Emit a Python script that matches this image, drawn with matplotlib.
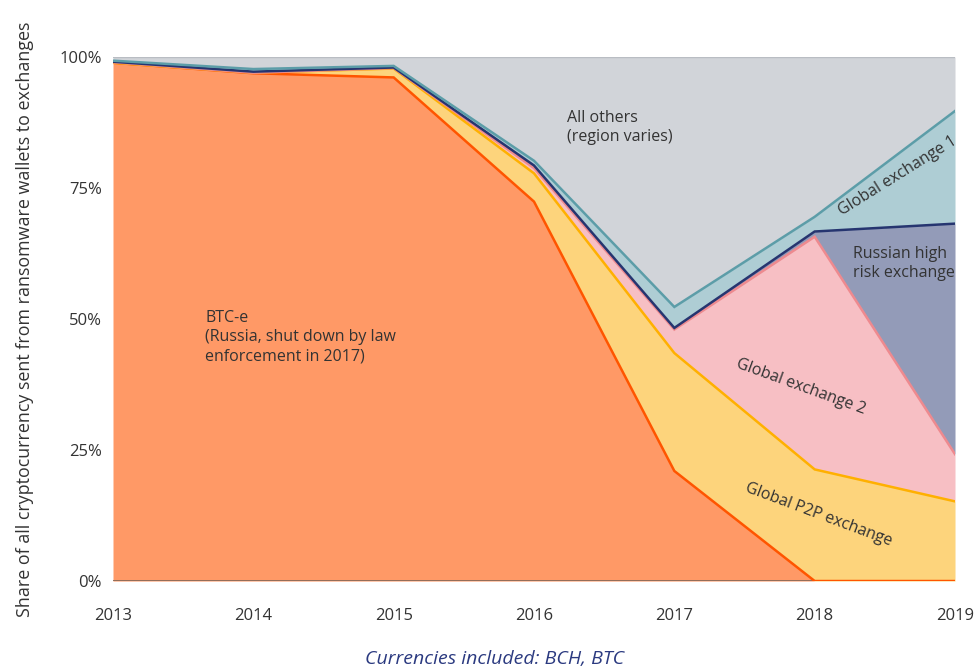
import matplotlib
matplotlib.use("Agg")
import matplotlib.pyplot as plt
import numpy as np

years = [2013, 2014, 2015, 2016, 2017, 2018, 2019]
btc_e = [98.9, 96.9, 96.1, 72.4, 21.0, 0.0, 0.0]
global_p2p = [0.0, 0.1, 1.7, 5.4, 22.5, 21.3, 15.2]
global_ex2 = [0.1, 0.0, 0.1, 1.0, 4.5, 44.4, 9.0]
russian_hr = [0.1, 0.2, 0.1, 0.5, 0.3, 1.0, 44.0]
global_ex1 = [0.2, 0.5, 0.3, 0.9, 4.0, 2.8, 21.5]
all_others = [0.7, 2.3, 1.7, 19.8, 47.7, 30.5, 10.3]

series = [btc_e, global_p2p, global_ex2, russian_hr, global_ex1, all_others]
fills = ["#FF9966", "#FDD47C", "#F7BFC4", "#939BB8", "#AECDD4", "#D1D4D9"]
edges = ["#FF5500", "#FFB000", "#EE8A8F", "#263570", "#5C9DA8", None]

yticks = [0, 25, 50, 75, 100]
ytick_labels = ["0%", "25%", "50%", "75%", "100%"]

plt.rcParams["font.family"] = ["Open Sans", "DejaVu Sans"]
txt = "#333333"

fig = plt.figure(figsize=(9.8, 6.69), dpi=100)
ax = fig.add_axes([0.1153, 0.1315, 0.8592, 0.7833])

x = np.array(years)
data = np.array(series)
cum = np.cumsum(data, axis=0)
bottom = np.zeros(len(years))
for i in range(len(series)):
    ax.fill_between(x, bottom, cum[i], color=fills[i], linewidth=0, zorder=1)
    bottom = cum[i]

ax.axhline(0, color="#8a6a58", lw=1.3, zorder=2)
ax.axhline(100, color="#B9BDC3", lw=1.0, zorder=2)
for i in range(len(series)):
    if edges[i]:
        ax.plot(x, cum[i], color=edges[i], lw=1.8, zorder=3 + i * 0.01,
                solid_joinstyle="miter")

ax.set_xlim(2013, 2019)
ax.set_ylim(0, 100)
ax.set_xticks(years)
ax.set_xticklabels([str(y) for y in years], fontsize=12, color=txt)
ax.set_yticks(yticks)
ax.set_yticklabels(ytick_labels, fontsize=12, color=txt)
ax.tick_params(length=0, pad=8)
ax.tick_params(axis="x", pad=19.5)
for s in ax.spines.values():
    s.set_visible(False)

ax.set_ylabel("Share of all cryptocurrency sent from ransomware wallets to exchanges",
              fontsize=12.9, color=txt, labelpad=18)

kw = dict(fontsize=11.5, color=txt)
ax.text(2013.657, 51.7, "BTC-e\n(Russia, shut down by law\nenforcement in 2017)",
        ha="left", va="top", linespacing=1.25, **kw)
ax.text(2016.236, 89.8, "All others\n(region varies)", ha="left", va="top",
        linespacing=1.25, **kw)
ax.text(2018.59, 77.3, "Global exchange 1", ha="center", va="center", rotation=32, **kw)
ax.text(2018.27, 64.0, "Russian high\nrisk exchange", ha="left", va="top",
        linespacing=1.25, **kw)
ax.text(2017.9, 37.0, "Global exchange 2", ha="center", va="center", rotation=-20, **kw)
ax.text(2018.03, 12.6, "Global P2P exchange", ha="center", va="center", rotation=-20.5, **kw)

fig.text(495 / 980, (669 - 659) / 669, "Currencies included: BCH, BTC", ha="center",
         va="center", fontsize=14, style="italic", color="#2B3A80")

fig.savefig("out.png", dpi=100)
